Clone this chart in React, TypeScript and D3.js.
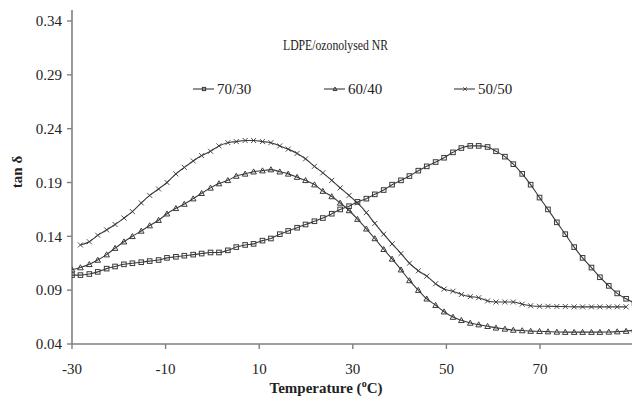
import React from "react";
import * as d3 from "d3";

const temps = [-30.0, -28.2, -26.3, -24.5, -22.6, -20.8, -18.9, -17.1, -15.2, -13.4, -11.5, -9.7, -7.8, -6.0, -4.1, -2.3, -0.4, 1.4, 3.3, 5.1, 7.0, 8.8, 10.7, 12.5, 14.4, 16.2, 18.1, 19.9, 21.8, 23.6, 25.5, 27.3, 29.2, 31.0, 32.9, 34.7, 36.6, 38.4, 40.3, 42.1, 44.0, 45.8, 47.7, 49.5, 51.4, 53.2, 55.1, 56.9, 58.8, 60.6, 62.5, 64.3, 66.2, 68.0, 69.9, 71.7, 73.6, 75.4, 77.3, 79.1, 81.0, 82.8, 84.7, 86.5, 88.4, 90.2];

const s7030 = [0.104, 0.104, 0.105, 0.107, 0.110, 0.112, 0.114, 0.115, 0.116, 0.117, 0.118, 0.120, 0.121, 0.122, 0.123, 0.124, 0.125, 0.125, 0.127, 0.130, 0.132, 0.133, 0.136, 0.138, 0.142, 0.145, 0.148, 0.151, 0.154, 0.157, 0.161, 0.165, 0.168, 0.172, 0.175, 0.179, 0.183, 0.188, 0.192, 0.196, 0.201, 0.205, 0.209, 0.213, 0.218, 0.222, 0.224, 0.224, 0.223, 0.219, 0.214, 0.207, 0.198, 0.188, 0.176, 0.165, 0.153, 0.142, 0.130, 0.120, 0.111, 0.102, 0.094, 0.087, 0.082, 0.078];

const s6040 = [0.109, 0.111, 0.114, 0.118, 0.123, 0.129, 0.135, 0.140, 0.145, 0.150, 0.155, 0.161, 0.166, 0.170, 0.175, 0.180, 0.185, 0.189, 0.192, 0.196, 0.198, 0.200, 0.201, 0.202, 0.200, 0.198, 0.195, 0.192, 0.188, 0.182, 0.177, 0.171, 0.164, 0.156, 0.147, 0.138, 0.128, 0.119, 0.109, 0.099, 0.090, 0.082, 0.076, 0.070, 0.065, 0.062, 0.0595, 0.058, 0.0565, 0.055, 0.054, 0.053, 0.0525, 0.052, 0.0518, 0.0515, 0.0512, 0.051, 0.051, 0.051, 0.051, 0.051, 0.0512, 0.0515, 0.052, 0.053];

const s5050 = [null, 0.132, 0.135, 0.141, 0.146, 0.151, 0.157, 0.163, 0.171, 0.178, 0.184, 0.190, 0.198, 0.204, 0.210, 0.215, 0.219, 0.224, 0.227, 0.228, 0.229, 0.229, 0.228, 0.227, 0.224, 0.221, 0.217, 0.212, 0.205, 0.199, 0.192, 0.185, 0.178, 0.171, 0.162, 0.152, 0.142, 0.133, 0.124, 0.115, 0.108, 0.103, 0.096, 0.091, 0.089, 0.086, 0.084, 0.083, 0.080, 0.079, 0.079, 0.079, 0.077, 0.0755, 0.075, 0.075, 0.0748, 0.0748, 0.0745, 0.0745, 0.0745, 0.0745, 0.0745, 0.0745, 0.0745, null];

const xTicks = [-30, -10, 10, 30, 50, 70];
const yTicks = [0.04, 0.09, 0.14, 0.19, 0.24, 0.29, 0.34];
const seriesNames = ["70/30", "60/40", "50/50"];
const legendTitle = "LDPE/ozonolysed NR";

const W = 632;
const H = 401;
const FONT = "'Liberation Serif', 'Times New Roman', serif";
const LINE = "#3a3a3a";
const AXIS = "#808080";
const TEXT = "#222";

function Marker({ kind, x, y, s = 1 }: { kind: string; x: number; y: number; s?: number }) {
  if (kind === "square") {
    const h = 2.3 * s;
    return <rect x={x - h} y={y - h} width={2 * h} height={2 * h} fill="none" stroke={LINE} strokeWidth={1} />;
  }
  if (kind === "triangle") {
    const a = 2.8 * s;
    return <path d={`M${x},${y - a}L${x + a},${y + a * 0.8}L${x - a},${y + a * 0.8}Z`} fill="none" stroke={LINE} strokeWidth={1} />;
  }
  const c = 2.5 * s;
  return <path d={`M${x - c},${y - c}L${x + c},${y + c}M${x - c},${y + c}L${x + c},${y - c}`} stroke={LINE} strokeWidth={0.9} />;
}

export default function App() {
  const left = 72;
  const bottom = 344;
  const x = d3.scaleLinear().domain([-30, 70]).range([left, 540]);
  const y = d3.scaleLinear().domain([0.04, 0.34]).range([bottom, 21]);

  const series = [
    { name: seriesNames[0], values: s7030, kind: "square" },
    { name: seriesNames[1], values: s6040, kind: "triangle" },
    { name: seriesNames[2], values: s5050, kind: "cross" },
  ];

  const line = d3
    .line<[number, number | null]>()
    .defined((d) => d[1] != null)
    .x((d) => x(d[0]))
    .y((d) => y(d[1] as number))
    .curve(d3.curveMonotoneX);

  const legendPos = [
    { lx: 193, tx: 217 },
    { lx: 324, tx: 348 },
    { lx: 454, tx: 478 },
  ];

  return (
    <svg width={W} height={H} style={{ position: "absolute", left: 0, top: 0, background: "#fff" }} fontFamily={FONT}>
      <defs>
        <clipPath id="plot">
          <rect x={left} y={0} width={W - left} height={bottom} />
        </clipPath>
      </defs>
      <rect x={0} y={0} width={W} height={H} fill="#fff" />

      {/* axes */}
      <line x1={left} x2={left} y1={10} y2={bottom} stroke={AXIS} strokeWidth={1.6} />
      <line x1={left} x2={W} y1={bottom} y2={bottom} stroke={AXIS} strokeWidth={1.6} />
      {yTicks.map((t) => (
        <g key={t}>
          <line x1={left - 5} x2={left} y1={y(t)} y2={y(t)} stroke={AXIS} strokeWidth={1.4} />
          <text x={left - 10} y={y(t)} dy="0.35em" textAnchor="end" fontSize={15} fill={TEXT}>
            {t.toFixed(2)}
          </text>
        </g>
      ))}
      {xTicks.map((t) => (
        <g key={t}>
          <line x1={x(t)} x2={x(t)} y1={bottom} y2={bottom + 5} stroke={AXIS} strokeWidth={1.4} />
          <text x={x(t)} y={374} textAnchor="middle" fontSize={15} fill={TEXT}>
            {t}
          </text>
        </g>
      ))}
      <text x={326} y={393} textAnchor="middle" fontSize={15} fontWeight="bold" fill={TEXT}>
        Temperature (<tspan fontSize={10} dy={-6}>o</tspan><tspan dy={6}>C)</tspan>
      </text>
      <text transform={`translate(22,172) rotate(-90)`} textAnchor="middle" fontSize={15} fontWeight="bold" fill={TEXT}>
        tan δ
      </text>

      {/* series */}
      <g clipPath="url(#plot)">
        {series.map((s) => {
          const pts: [number, number | null][] = temps.map((t, i) => [t, s.values[i]]);
          return (
            <g key={s.name}>
              <path d={line(pts) || ""} fill="none" stroke={LINE} strokeWidth={1.1} />
              {pts
                .filter((p) => p[1] != null)
                .map((p, i) => (
                  <Marker key={i} kind={s.kind} x={x(p[0])} y={y(p[1] as number)} />
                ))}
            </g>
          );
        })}
      </g>

      {/* legend */}
      <text x={283} y={50} fontSize={15} fill={TEXT} textLength={105} lengthAdjust="spacingAndGlyphs">
        {legendTitle}
      </text>
      {series.map((s, i) => (
        <g key={s.name}>
          <line x1={legendPos[i].lx} x2={legendPos[i].lx + 21} y1={89} y2={89} stroke={LINE} strokeWidth={1.1} />
          <Marker kind={s.kind} x={legendPos[i].lx + 11} y={89} s={0.7} />
          <text x={legendPos[i].tx} y={89} dy="0.35em" fontSize={15} fill={TEXT}>
            {s.name}
          </text>
        </g>
      ))}
    </svg>
  );
}
